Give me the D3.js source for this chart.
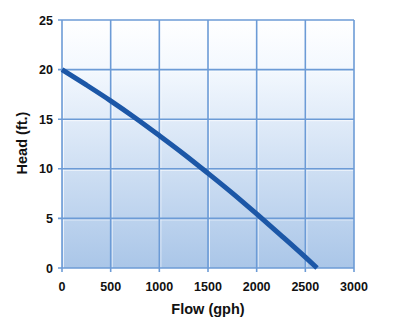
<!DOCTYPE html>
<html><head><meta charset="utf-8">
<script src="https://cdn.jsdelivr.net/npm/d3@7"></script>
<style>body{margin:0;background:#fff}svg{display:block}</style>
</head><body>
<script>
const flow = [0, 250, 500, 750, 1000, 1250, 1500, 1750, 2000, 2250, 2500, 2620];
const head = [20, 18.45, 16.85, 15.15, 13.35, 11.5, 9.55, 7.55, 5.45, 3.3, 1.1, 0];
const xTicks = [0, 500, 1000, 1500, 2000, 2500, 3000];
const yTicks = [0, 5, 10, 15, 20, 25];

const W = 399, H = 331;
const m = {l: 62, r: 45, t: 20, b: 63};
const svg = d3.select("body").append("svg").attr("width", W).attr("height", H);
const x = d3.scaleLinear().domain([0, 3000]).range([m.l, W - m.r]);
const y = d3.scaleLinear().domain([0, 25]).range([H - m.b, m.t]);

const defs = svg.append("defs");
const g = defs.append("linearGradient").attr("id", "bg").attr("x1", 0).attr("x2", 0).attr("y1", 0).attr("y2", 1);
g.append("stop").attr("offset", "0%").attr("stop-color", "#ffffff");
g.append("stop").attr("offset", "20%").attr("stop-color", "#f3f8fe");
g.append("stop").attr("offset", "100%").attr("stop-color", "#aac6e8");

svg.append("rect").attr("x", x(0)).attr("y", y(25)).attr("width", x(3000) - x(0)).attr("height", y(0) - y(25)).attr("fill", "url(#bg)");

const gridColor = "#6c9bd6";
svg.append("g").selectAll("line").data(xTicks).join("line")
  .attr("x1", d => x(d) + 1.5).attr("x2", d => x(d) + 1.5).attr("y1", y(25)).attr("y2", y(0))
  .attr("stroke", "#ffffff").attr("stroke-opacity", 0.7).attr("stroke-width", 1);
svg.append("g").selectAll("line").data(yTicks).join("line")
  .attr("y1", d => y(d) + 1.5).attr("y2", d => y(d) + 1.5).attr("x1", x(0)).attr("x2", x(3000))
  .attr("stroke", "#ffffff").attr("stroke-opacity", 0.7).attr("stroke-width", 1);

svg.append("g").selectAll("line").data(xTicks).join("line")
  .attr("x1", d => x(d)).attr("x2", d => x(d)).attr("y1", y(25)).attr("y2", y(0) + 4)
  .attr("stroke", gridColor).attr("stroke-width", 1.6);
svg.append("g").selectAll("line").data(yTicks).join("line")
  .attr("y1", d => y(d)).attr("y2", d => y(d)).attr("x1", x(0) - 4).attr("x2", x(3000))
  .attr("stroke", gridColor).attr("stroke-width", 1.6);

const font = "'Liberation Sans', Arial, sans-serif";
svg.append("g").selectAll("text").data(xTicks).join("text")
  .attr("x", d => x(d)).attr("y", y(0) + 23).attr("text-anchor", "middle")
  .attr("font-family", font).attr("font-weight", "bold").attr("font-size", 12.5).attr("fill", "#111")
  .text(d => d);
svg.append("g").selectAll("text").data(yTicks).join("text")
  .attr("x", x(0) - 9).attr("y", d => y(d) + 4.5).attr("text-anchor", "end")
  .attr("font-family", font).attr("font-weight", "bold").attr("font-size", 12.5).attr("fill", "#111")
  .text(d => d);

svg.append("text").attr("x", 208).attr("y", 314).attr("text-anchor", "middle")
  .attr("font-family", font).attr("font-weight", "bold").attr("font-size", 14.5).attr("fill", "#111")
  .text("Flow (gph)");
svg.append("text").attr("transform", "translate(27,143) rotate(-90)").attr("text-anchor", "middle")
  .attr("font-family", font).attr("font-weight", "bold").attr("font-size", 14.5).attr("fill", "#111")
  .text("Head (ft.)");

const line = d3.line().x((d, i) => x(flow[i])).y(d => y(d)).curve(d3.curveMonotoneX);
svg.append("path").datum(head).attr("d", line).attr("fill", "none")
  .attr("stroke", "#1c57a7").attr("stroke-width", 5).attr("stroke-linecap", "butt");
</script>
</body></html>
